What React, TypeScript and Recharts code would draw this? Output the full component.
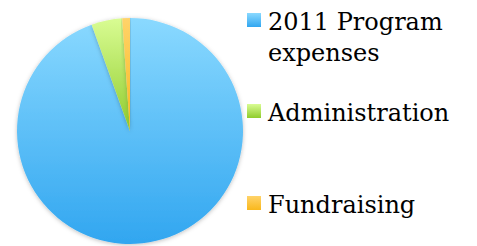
import { PieChart, Pie, Cell, Legend } from 'recharts';

const categories = ['2011 Program expenses', 'Administration', 'Fundraising'];
const values = [94.5, 4.4, 1.1];
const legendLines = [['2011 Program', 'expenses'], ['Administration'], ['Fundraising']];

const gradients = [
  { id: 'gBlue', top: '#8ad9ff', bottom: '#31a6f0' },
  { id: 'gGreen', top: '#d9fc93', bottom: '#8fcc2c' },
  { id: 'gOrange', top: '#ffd36a', bottom: '#f9b81c' },
];

const data = categories.map((name, i) => ({ name, value: values[i] }));

const legendTops = [13, 104, 196];

function LegendBox() {
  return (
    <div style={{ position: 'relative', width: 230, height: 246 }}>
      {legendLines.map((lines, i) => (
        <div key={i} style={{ position: 'absolute', left: 0, top: legendTops[i] }}>
          <div
            style={{
              position: 'absolute',
              left: 0,
              top: 0,
              width: 14,
              height: 14,
              background: `linear-gradient(${gradients[i].top}, ${gradients[i].bottom})`,
            }}
          />
          <div
            style={{
              position: 'absolute',
              left: 21,
              top: -6,
              whiteSpace: 'nowrap',
              fontFamily: '"DejaVu Serif", serif',
              fontSize: 24,
              lineHeight: '31px',
              color: '#000',
            }}
          >
            {lines.map((l, j) => (
              <div key={j}>{l}</div>
            ))}
          </div>
        </div>
      ))}
    </div>
  );
}

export default function App() {
  return (
    <div style={{ position: 'absolute', left: 0, top: 0, width: 477, height: 246, background: '#fff' }}>
      <PieChart width={477} height={246} margin={{ top: 0, right: 0, bottom: 0, left: 0 }}>
        <defs>
          {gradients.map((g) => (
            <linearGradient key={g.id} id={g.id} x1="0" y1="0" x2="0" y2="1">
              <stop offset="0%" stopColor={g.top} />
              <stop offset="100%" stopColor={g.bottom} />
            </linearGradient>
          ))}
          <filter id="shadow" x="-10%" y="-10%" width="120%" height="120%">
            <feDropShadow dx="0" dy="1" stdDeviation="2" floodColor="#000" floodOpacity="0.25" />
          </filter>
        </defs>
        <Pie
          data={data}
          dataKey="value"
          nameKey="name"
          cx={130}
          cy={131}
          outerRadius={113}
          startAngle={90}
          endAngle={-270}
          stroke="none"
          isAnimationActive={false}
          style={{ filter: 'url(#shadow)' }}
        >
          {data.map((d, i) => (
            <Cell key={d.name} fill={`url(#${gradients[i].id})`} />
          ))}
        </Pie>
        <Legend
          layout="vertical"
          align="right"
          verticalAlign="top"
          wrapperStyle={{ left: 247, top: 0, width: 230 }}
          content={() => <LegendBox />}
        />
      </PieChart>
    </div>
  );
}
